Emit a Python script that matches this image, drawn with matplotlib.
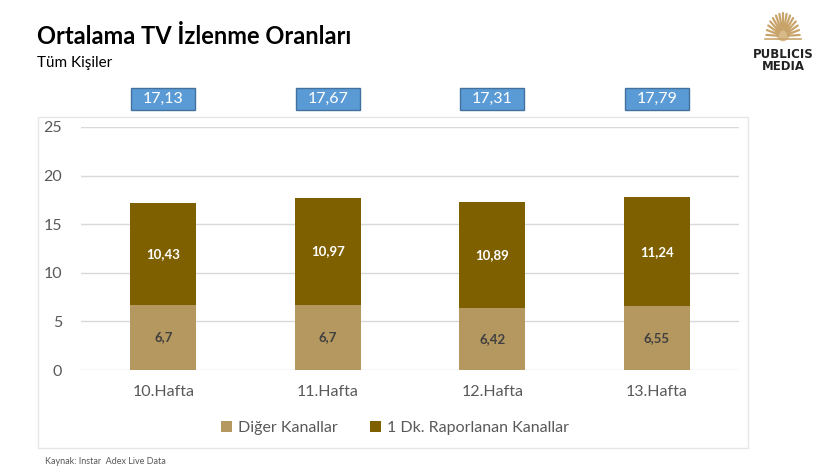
import matplotlib
matplotlib.use("Agg")
import matplotlib.pyplot as plt
from matplotlib.patches import Rectangle
import matplotlib.transforms as mtrans
import numpy as np

plt.rcParams['font.family'] = ['Lato', 'DejaVu Sans']

categories = ["10.Hafta", "11.Hafta", "12.Hafta", "13.Hafta"]
diger = [6.7, 6.7, 6.42, 6.55]
raporlanan = [10.43, 10.97, 10.89, 11.24]
totals = [17.13, 17.67, 17.31, 17.79]
yticks = [0, 5, 10, 15, 20, 25]

def fmt(v):
    return f"{v:g}".replace(".", ",")

fig = plt.figure(figsize=(8.3, 4.69), dpi=100)
W, H = 830, 469

# chart frame
fig.patches.append(Rectangle((38 / W, 1 - 448 / H), (748 - 38) / W, (448 - 117) / H,
                             transform=fig.transFigure, fill=False, edgecolor="#E6E6E6", lw=1.0))

ax = fig.add_axes([81 / W, 1 - 370 / H, (739 - 81) / W, (370 - 127) / H])
x = np.arange(len(categories))
w = 0.40
c_bot = "#B5985F"
c_top = "#7F6000"
ax.bar(x, diger, w, color=c_bot, label="Diğer Kanallar", zorder=3)
ax.bar(x, raporlanan, w, bottom=diger, color=c_top, label="1 Dk. Raporlanan Kanallar", zorder=3)

blend = mtrans.blended_transform_factory(ax.transData, fig.transFigure)
box_w = 0.39
for i in range(len(categories)):
    ax.text(x[i], diger[i] / 2, fmt(diger[i]), ha="center", va="center",
            fontsize=9.5, fontweight="bold", color="#404040", zorder=4)
    ax.text(x[i], diger[i] + raporlanan[i] / 2, fmt(raporlanan[i]), ha="center", va="center",
            fontsize=9.5, fontweight="bold", color="white", zorder=4)
    r = Rectangle((x[i] - box_w / 2, 1 - 110 / H), box_w, 22 / H, transform=blend,
                  fc="#5B9BD5", ec="#41719C", lw=1.0, clip_on=False, zorder=5)
    ax.add_patch(r)
    ax.text(x[i], 1 - 99 / H, fmt(totals[i]), transform=blend, ha="center", va="center",
            fontsize=11.5, color="white", clip_on=False, zorder=6)

ax.set_xlim(-0.5, len(categories) - 0.5)
ax.set_ylim(0, 25)
ax.set_yticks(yticks)
ax.set_xticks(x)
ax.set_xticklabels(categories)
ax.yaxis.grid(True, color="#D9D9D9", lw=1.0, zorder=0)
for s in ax.spines.values():
    s.set_visible(False)
ax.tick_params(axis="both", length=0, colors="#595959", labelsize=11.5)
ax.tick_params(axis="y", pad=13.5)
ax.tick_params(axis="x", pad=11)

leg = fig.legend(loc="center", bbox_to_anchor=(395 / W, 1 - 428 / H), ncol=2, frameon=False,
                 fontsize=11.5, handlelength=0.7, handleheight=0.7, handletextpad=0.4,
                 columnspacing=2.0)
for t in leg.get_texts():
    t.set_color("#595959")

fig.text(37 / W, 1 - 37 / H, "Ortalama TV İzlenme Oranları", fontsize=17, fontweight="bold",
         color="black", va="center", ha="left")
fig.text(37 / W, 1 - 63 / H, "Tüm Kişiler", fontsize=11, color="black", va="center", ha="left")
fig.text(45 / W, 1 - 461 / H, "Kaynak: Instar  Adex Live Data", fontsize=6.5, color="#595959",
         va="center", ha="left")

# logo
fig.text(783 / W, 1 - 54 / H, "PUBLICIS", fontsize=8.5, fontweight="bold", color="#222222",
         ha="center", va="center", family="DejaVu Sans")
fig.text(783 / W, 1 - 67 / H, "MEDIA", fontsize=8.5, fontweight="bold", color="#222222",
         ha="center", va="center", family="DejaVu Sans")
lax = fig.add_axes([763 / W, 1 - 44 / H, 40 / W, 34 / H])
lax.set_xlim(-1.2, 1.2)
lax.set_ylim(-0.2, 1.3)
lax.axis("off")
for a in np.linspace(0.05, np.pi - 0.05, 15):
    lax.plot([0.3 * np.cos(a), 1.0 * np.cos(a)], [0.3 * np.sin(a) + 0.15, 1.0 * np.sin(a) + 0.15],
             color="#C9A46A", lw=1.6, solid_capstyle="round")
lax.add_patch(plt.Circle((0, 0.35), 0.4, color="#D8B98A"))
lax.plot([-1.1, 1.1], [0.0, 0.0], color="#C9A46A", lw=1.2)

fig.savefig("out.png", dpi=100)
